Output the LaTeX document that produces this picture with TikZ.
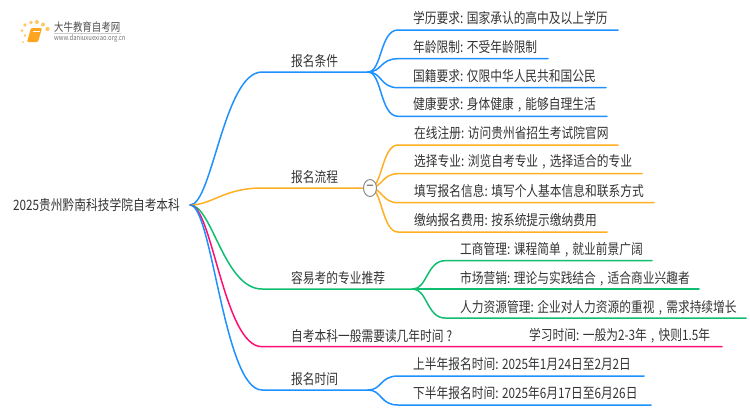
\documentclass[tikz,border=0pt]{standalone}
\usepackage{fontspec}
\setmainfont[FakeStretch=0.82]{Noto Sans CJK SC}
\usetikzlibrary{shapes.geometric}
\definecolor{mapblue}{RGB}{30,144,255}
\definecolor{maporange}{RGB}{255,175,35}
\definecolor{mapgreen}{RGB}{15,190,110}
\definecolor{mappink}{RGB}{255,15,115}
\definecolor{maptext}{RGB}{51,51,51}
\newcommand{\midcomma}{\makebox[0.82em][c]{,}}
\newcommand{\midquery}{\makebox[0.82em][c]{?}}
\tikzset{
  label/.style={anchor=west,inner sep=0pt,text=maptext,font=\fontsize{14.3}{16}\selectfont},
  branch/.style={line width=1.5pt,line cap=round}
}
\begin{document}
\begin{tikzpicture}[x=1pt,y=-1pt]
    \useasboundingbox (0,0) rectangle (750,410);
    % logo
    \foreach \x/\y/\r in {25/25/1.8,31/22.5/1.8,37/22/2,43/24.5/2,47.5/29/2.2,22/30.5/1.5,25/35.5/1.3,23/42/1} {
        \fill[maporange!70] (\x,\y) circle (\r);
    }
    \fill[maporange!95!red,rounded corners=1pt] (31,28) -- (42,28) -- (38,42) -- (27,42) -- cycle;
    \draw[white,line width=0.5pt] (33,31) -- (40,31);
    \node[label,text=black!70,font=\fontsize{11.5}{13}\selectfont] (logoname) at (54,27) {大牛教育自考网};
    \draw[black!20] (54,33.5) -- (121,33.5);
    \node[label,text=black!55,font=\fontsize{7.2}{8}\selectfont] (logourl) at (54,38.5) {www.daniuxuexiao.org.cn};
    % root
    \node[label,inner xsep=10pt] (root) at (3,205) {2025贵州黔南科技学院自考本科};
    % main branches
    \coordinate (condbend) at (262,72);
    \coordinate (condfork) at (368,72);
    \coordinate (stepbend) at (262,188);
    \coordinate (stepfork) at (370,188);
    \coordinate (easybend) at (262,289);
    \coordinate (easyfork) at (413,289);
    \coordinate (yearbend) at (262,346.7);
    \coordinate (yearend) at (722,346.7);
    \coordinate (timebend) at (262,390);
    \coordinate (timefork) at (368,390);
    \draw[branch,mapblue] (root.east) .. controls +(22,0) and +(-38,0) .. (condbend) -- (condfork);
    \draw[branch,maporange] (root.east) .. controls +(22,0) and +(-38,0) .. (stepbend) -- (stepfork);
    \draw[branch,mapgreen] (root.east) .. controls +(22,0) and +(-38,0) .. (easybend) -- (easyfork);
    \draw[branch,mappink] (root.east) .. controls +(22,0) and +(-38,0) .. (yearbend) -- (yearend);
    \draw[branch,mapblue] (root.east) .. controls +(22,0) and +(-38,0) .. (timebend) -- (timefork);
    \node[label] (cond) at (291,61) {报名条件};
    \node[label] (step) at (291,177) {报名流程};
    \node[label] (easy) at (291,278) {容易考的专业推荐};
    \node[label] (year) at (291,336) {自考本科一般需要读几年时间\midquery};
    \node[label] (yearinfo) at (529,336) {学习时间: 一般为2-3年\midcomma 快则1.5年};
    \node[label] (time) at (291,379) {报名时间};
    % leaves
    \foreach \id/\y/\xend/\txt in {
        a/30/618/{学历要求: 国家承认的高中及以上学历},
        b/58.7/548/{年龄限制: 不受年龄限制},
        c/87.7/606/{国籍要求: 仅限中华人民共和国公民},
        d/116.3/607/{健康要求: 身体健康\midcomma 能够自理生活}} {
        \coordinate (cond\id in) at (398,\y);
        \coordinate (cond\id end) at (\xend,\y);
        \draw[branch,mapblue] (condfork) .. controls +(14,0) and +(-18,0) .. (cond\id in) -- (cond\id end);
        \node[label] (cond\id) at (413,\y-11.5) {\txt};
    }
    \foreach \id/\y/\xend/\txt in {
        a/145/618/{在线注册: 访问贵州省招生考试院官网},
        b/173.7/642/{选择专业: 浏览自考专业\midcomma 选择适合的专业},
        c/202.7/654/{填写报名信息: 填写个人基本信息和联系方式},
        d/232/607/{缴纳报名费用: 按系统提示缴纳费用}} {
        \coordinate (step\id in) at (398,\y);
        \coordinate (step\id end) at (\xend,\y);
        \draw[branch,maporange] (stepfork) .. controls +(12,0) and +(-16,0) .. (step\id in) -- (step\id end);
        \node[label] (step\id) at (414,\y-11.5) {\txt};
    }
    \foreach \id/\y/\xend/\txt in {
        a/260.7/652/{工商管理: 课程简单\midcomma 就业前景广阔},
        b/289/699/{市场营销: 理论与实践结合\midcomma 适合商业兴趣者},
        c/318/746/{人力资源管理: 企业对人力资源的重视\midcomma 需求持续增长}} {
        \coordinate (easy\id in) at (445,\y);
        \coordinate (easy\id end) at (\xend,\y);
        \draw[branch,mapgreen] (easyfork) .. controls +(14,0) and +(-18,0) .. (easy\id in) -- (easy\id end);
        \node[label] (easy\id) at (460,\y-10.5) {\txt};
    }
    \foreach \id/\y/\xend/\txt in {
        a/376/644/{上半年报名时间: 2025年1月24日至2月2日},
        b/405/651/{下半年报名时间: 2025年6月17日至6月26日}} {
        \coordinate (time\id in) at (398,\y);
        \coordinate (time\id end) at (\xend,\y);
        \draw[branch,mapblue] (timefork) .. controls +(14,0) and +(-18,0) .. (time\id in) -- (time\id end);
        \node[label] (time\id) at (413,\y-11.5) {\txt};
    }
    % fold mark
    \node[ellipse,draw=black!45,fill=white,line width=1pt,minimum width=13pt,minimum height=17pt,inner sep=0pt,text=black!65,font=\fontsize{17}{17}\selectfont] (fold) at (370,188) {–};
\end{tikzpicture}
\end{document}
